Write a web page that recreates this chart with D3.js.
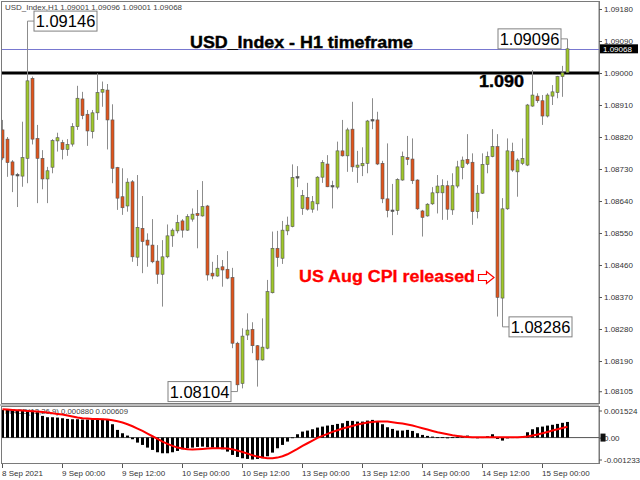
<!DOCTYPE html>
<html><head><meta charset="utf-8">
<script src="https://cdn.jsdelivr.net/npm/d3@7"></script>
<style>html,body{margin:0;padding:0;background:#fff;overflow:hidden}</style>
</head><body><svg id="c" width="640" height="480"></svg>
<script>
// trading sessions (day, first hour, last hour) -> hourly bar categories
const sessions = [["8 Sep",12,23],["9 Sep",0,23],["10 Sep",0,23],["13 Sep",0,23],["14 Sep",0,23],["15 Sep",0,5]];

const open = [1.08840,1.08814,1.08750,1.08713,1.08710,1.08760,1.08985,1.08816,1.08760,1.08702,
1.08735,1.08809,1.08804,1.08785,1.08800,1.08849,1.08927,1.08884,1.08835,1.08888,
1.08946,1.08952,1.08868,1.08734,1.08652,1.08626,1.08694,1.08482,1.08563,1.08530,
1.08516,1.08471,1.08434,1.08483,1.08542,1.08556,1.08584,1.08558,1.08589,1.08605,
1.08598,1.08626,1.08437,1.08429,1.08455,1.08448,1.08425,1.08240,1.08127,1.08263,
1.08279,1.08233,1.08193,1.08226,1.08382,1.08507,1.08479,1.08556,1.08568,1.08706,
1.08619,1.08650,1.08617,1.08632,1.08707,1.08744,1.08682,1.08679,1.08781,1.08767,
1.08842,1.08735,1.08739,1.08746,1.08868,1.08868,1.08746,1.08646,1.08613,1.08613,
1.08699,1.08762,1.08758,1.08699,1.08612,1.08598,1.08632,1.08663,1.08663,1.08683,
1.08615,1.08682,1.08734,1.08757,1.08749,1.08610,1.08662,1.08743,1.08765,1.08793,
1.08367,1.08618,1.08779,1.08722,1.08746,1.08741,1.08907,1.08935,1.08922,1.08879,
1.08935,1.08945,1.08990,1.09001];
const high = [1.08868,1.08820,1.08755,1.08719,1.08863,1.09146,1.08990,1.08854,1.08783,1.08736,
1.08814,1.08832,1.08812,1.08814,1.08859,1.08964,1.08947,1.08896,1.08896,1.08999,
1.08976,1.08969,1.08912,1.08736,1.08732,1.08704,1.08699,1.08713,1.08654,1.08549,
1.08589,1.08516,1.08530,1.08574,1.08563,1.08601,1.08589,1.08603,1.08619,1.08671,
1.08696,1.08629,1.08469,1.08488,1.08474,1.08499,1.08452,1.08244,1.08282,1.08324,
1.08299,1.08235,1.08310,1.08418,1.08554,1.08556,1.08584,1.08596,1.08743,1.08738,
1.08671,1.08691,1.08654,1.08710,1.08755,1.08769,1.08697,1.08807,1.08868,1.08846,
1.08919,1.08781,1.08791,1.08868,1.08929,1.08891,1.08753,1.08802,1.08688,1.08704,
1.08779,1.08823,1.08816,1.08701,1.08615,1.08634,1.08679,1.08713,1.08701,1.08697,
1.08718,1.08753,1.08765,1.08828,1.08774,1.08685,1.08774,1.08779,1.08842,1.08828,
1.08648,1.08816,1.08804,1.08760,1.08816,1.08913,1.09008,1.08943,1.08938,1.08943,
1.08966,1.08992,1.09020,1.09096];
const low = [1.08755,1.08708,1.08665,1.08623,1.08680,1.08690,1.08799,1.08634,1.08673,1.08634,
1.08718,1.08779,1.08757,1.08767,1.08793,1.08840,1.08870,1.08795,1.08816,1.08868,
1.08905,1.08785,1.08690,1.08615,1.08601,1.08610,1.08469,1.08457,1.08437,1.08455,
1.08465,1.08407,1.08343,1.08479,1.08511,1.08549,1.08537,1.08556,1.08582,1.08507,
1.08596,1.08416,1.08420,1.08427,1.08399,1.08420,1.08226,1.08104,1.08113,1.08249,
1.08212,1.08118,1.08191,1.08223,1.08380,1.08455,1.08463,1.08544,1.08566,1.08679,
1.08601,1.08613,1.08607,1.08613,1.08691,1.08679,1.08619,1.08673,1.08765,1.08722,
1.08722,1.08691,1.08710,1.08718,1.08842,1.08741,1.08634,1.08594,1.08544,1.08601,
1.08697,1.08741,1.08688,1.08615,1.08540,1.08596,1.08629,1.08605,1.08587,1.08587,
1.08601,1.08676,1.08701,1.08741,1.08573,1.08591,1.08660,1.08718,1.08763,1.08315,
1.08286,1.08615,1.08722,1.08652,1.08741,1.08738,1.08905,1.08916,1.08854,1.08875,
1.08910,1.08929,1.08933,1.09001];
const close = [1.08761,1.08748,1.08713,1.08712,1.08762,1.08978,1.08814,1.08760,1.08702,1.08725,
1.08810,1.08818,1.08785,1.08799,1.08849,1.08929,1.08880,1.08837,1.08888,1.08945,
1.08954,1.08868,1.08732,1.08648,1.08621,1.08693,1.08483,1.08566,1.08526,1.08516,
1.08469,1.08434,1.08483,1.08542,1.08558,1.08579,1.08558,1.08596,1.08603,1.08599,
1.08624,1.08432,1.08429,1.08451,1.08446,1.08423,1.08240,1.08123,1.08260,1.08277,
1.08233,1.08193,1.08229,1.08385,1.08507,1.08481,1.08558,1.08572,1.08706,1.08707,
1.08655,1.08617,1.08638,1.08707,1.08748,1.08680,1.08681,1.08781,1.08767,1.08840,
1.08736,1.08741,1.08746,1.08865,1.08866,1.08744,1.08646,1.08613,1.08612,1.08700,
1.08765,1.08757,1.08697,1.08618,1.08594,1.08631,1.08663,1.08682,1.08683,1.08617,
1.08683,1.08736,1.08755,1.08746,1.08610,1.08662,1.08743,1.08765,1.08793,1.08369,
1.08618,1.08781,1.08727,1.08755,1.08760,1.08910,1.08938,1.08922,1.08879,1.08938,
1.08947,1.08990,1.09001,1.09068];
const macdHist = [0.001558,0.001558,0.001539,0.001539,0.001520,0.001558,0.001520,0.001427,0.001220,0.001145,
0.001145,0.001126,0.001089,0.001051,0.001032,0.001032,0.001014,0.001014,0.001032,0.001051,
0.001051,0.000995,0.000751,0.000432,0.000244,0.000113,-0.000094,-0.000282,-0.000413,-0.000563,
-0.000694,-0.000826,-0.000882,-0.000882,-0.000826,-0.000751,-0.000657,-0.000601,-0.000563,-0.000526,
-0.000507,-0.000544,-0.000563,-0.000601,-0.000657,-0.000788,-0.000976,-0.001089,-0.001164,-0.001201,
-0.001233,-0.001201,-0.001164,-0.001051,-0.000845,-0.000601,-0.000413,-0.000225,0.000010,0.000188,
0.000338,0.000394,0.000469,0.000563,0.000619,0.000676,0.000713,0.000770,0.000807,0.000939,
0.000939,0.000901,0.000901,0.000957,0.000995,0.000901,0.000751,0.000582,0.000488,0.000394,
0.000394,0.000432,0.000375,0.000244,0.000150,0.000094,0.000056,0.000019,0.000019,0.000005,
0.000019,0.000038,0.000075,0.000113,0.000019,0.000005,0.000019,0.000075,0.000188,-0.000075,
-0.000169,-0.000005,0.000019,0.000019,0.000056,0.000300,0.000469,0.000582,0.000619,0.000676,
0.000720,0.000770,0.000830,0.000880];
const macdSignal = [0.001595,0.001577,0.001558,0.001539,0.001520,0.001502,0.001483,0.001464,0.001445,0.001408,
0.001370,0.001333,0.001295,0.001239,0.001183,0.001126,0.001089,0.001070,0.001051,0.001051,
0.001032,0.001014,0.000976,0.000920,0.000845,0.000751,0.000638,0.000507,0.000375,0.000225,
0.000075,-0.000075,-0.000225,-0.000357,-0.000469,-0.000563,-0.000619,-0.000657,-0.000676,-0.000657,
-0.000638,-0.000619,-0.000601,-0.000601,-0.000601,-0.000619,-0.000657,-0.000732,-0.000807,-0.000901,
-0.000995,-0.001070,-0.001126,-0.001164,-0.001164,-0.001126,-0.001051,-0.000939,-0.000788,-0.000638,
-0.000469,-0.000319,-0.000169,-0.000019,0.000094,0.000206,0.000319,0.000413,0.000507,0.000582,
0.000657,0.000732,0.000788,0.000845,0.000882,0.000901,0.000901,0.000901,0.000863,0.000826,
0.000788,0.000732,0.000676,0.000601,0.000526,0.000450,0.000375,0.000300,0.000244,0.000188,
0.000131,0.000094,0.000056,0.000038,0.000019,0.000019,0.000019,0.000019,0.000019,0.000019,
0.000019,0.000019,0.000019,0.000019,0.000038,0.000056,0.000113,0.000169,0.000244,0.000319,
0.000394,0.000469,0.000544,0.000609];

const priceTicks = [1.0918,1.0909,1.0900,1.0891,1.0882,1.0873,1.0864,1.0855,1.0846,1.0837,1.0828,1.0819,1.08105];
const macdTicks = [0.001524,0,-0.001233];
const macdTickLabels = ["0.001524","0.00","-0.001233"];
const xTickTimes = ["8 Sep 12:00","9 Sep 00:00","9 Sep 12:00","10 Sep 00:00","10 Sep 12:00","13 Sep 00:00","13 Sep 12:00","14 Sep 00:00","14 Sep 12:00","15 Sep 00:00"];
const xTickLabels = ["8 Sep 2021","9 Sep 00:00","9 Sep 12:00","10 Sep 00:00","10 Sep 12:00","13 Sep 00:00","13 Sep 12:00","14 Sep 00:00","14 Sep 12:00","15 Sep 00:00"];
const levelLine = 1.090, lastPrice = 1.09068;
const priceCallouts = [{bar:5, price:1.09146, side:"right"},{bar:113, price:1.09096, side:"left"},
                       {bar:100, price:1.08286, side:"right"},{bar:47, price:1.08104, side:"left"}];

const times = [];
sessions.forEach(([d,a,b]) => { for (let h=a; h<=b; h++) times.push(d+" "+String(h).padStart(2,"0")+":00"); });
const bars = times.map((t,i) => ({t, i, o:open[i], h:high[i], l:low[i], c:close[i], m:macdHist[i], s:macdSignal[i]}));

const svg = d3.select("#c");
const FONT = "'Liberation Sans', Arial, sans-serif";
const x = d3.scaleBand().domain(times).range([0, 570]);
const cx = t => x(t) + x.bandwidth()/2;
const y = d3.scaleLinear().domain([1.0819, 1.0918]).range([361, 9]);
const ym = d3.scaleLinear().domain([-0.001233, 0.001524]).range([459.5, 410.5]);

const defs = svg.append("defs");
defs.append("clipPath").attr("id","cm").append("rect").attr("x",2).attr("y",2).attr("width",597).attr("height",401);
defs.append("clipPath").attr("id","cd").append("rect").attr("x",2).attr("y",407).attr("width",597).attr("height",56);

// frames
svg.append("rect").attr("x",1.5).attr("y",1.5).attr("width",597.5).attr("height",402).attr("fill","#fff").attr("stroke","#7a7a7a");
svg.append("rect").attr("x",1.5).attr("y",406.5).attr("width",597.5).attr("height",57).attr("fill","#fff").attr("stroke","#7a7a7a");
svg.append("line").attr("x1",0).attr("x2",599).attr("y1",405).attr("y2",405).attr("stroke","#bdbdbd").attr("stroke-width",2);

// header
svg.append("text").attr("x",5).attr("y",10).attr("font-family",FONT).attr("font-size",7.5).attr("fill","#444")
  .attr("textLength",177).attr("lengthAdjust","spacingAndGlyphs")
  .text("USD_Index,H1  1.09001 1.09096 1.09001 1.09068");

const gm = svg.append("g").attr("clip-path","url(#cm)");
// level lines
gm.append("line").attr("x1",0).attr("x2",599).attr("y1",Math.round(y(lastPrice))+0.5).attr("y2",Math.round(y(lastPrice))+0.5)
  .attr("stroke","#7878d0").attr("stroke-width",1);
gm.append("line").attr("x1",0).attr("x2",599).attr("y1",y(levelLine)).attr("y2",y(levelLine))
  .attr("stroke","#000").attr("stroke-width",3);

// title texts
svg.append("text").attr("x",190).attr("y",48).attr("font-family",FONT).attr("font-weight","bold").attr("font-size",16)
  .attr("textLength",223).attr("lengthAdjust","spacingAndGlyphs").attr("fill","#000").attr("stroke","#000").attr("stroke-width",0.4)
  .text("USD_Index - H1 timeframe");
svg.append("text").attr("x",479).attr("y",86.5).attr("font-family",FONT).attr("font-weight","bold").attr("font-size",16)
  .attr("textLength",45).attr("lengthAdjust","spacingAndGlyphs").attr("fill","#000").attr("stroke","#000").attr("stroke-width",0.4)
  .text("1.090");
svg.append("text").attr("x",299).attr("y",281.5).attr("font-family",FONT).attr("font-weight","bold").attr("font-size",16)
  .attr("textLength",176).attr("lengthAdjust","spacingAndGlyphs").attr("fill","#f00").attr("stroke","#f00").attr("stroke-width",0.3)
  .text("US Aug CPI released");
svg.append("path").attr("d","M478.5,274.5 H486.5 V271.5 L494,277.5 L486.5,283.5 V280.5 H478.5 Z")
  .attr("fill","#fff").attr("stroke","#f00").attr("stroke-width",1.2);

// candles
const BULL = "#a0c82a", BEAR = "#e0541c";
gm.selectAll("line.wick").data(bars).join("line").attr("class","wick")
  .attr("x1",d=>cx(d.t)).attr("x2",d=>cx(d.t)).attr("y1",d=>y(d.h)).attr("y2",d=>y(d.l))
  .attr("stroke","#8c8c8c").attr("stroke-width",1);
gm.selectAll("rect.body").data(bars).join("rect").attr("class","body")
  .attr("x",d=>cx(d.t)-1.5).attr("width",3)
  .attr("y",d=>{const h=Math.abs(y(d.o)-y(d.c)); return h<1.5? (y(d.o)+y(d.c))/2-0.75 : y(Math.max(d.o,d.c));})
  .attr("height",d=>Math.max(1.5, Math.abs(y(d.o)-y(d.c))))
  .attr("fill",d=>Math.abs(y(d.o)-y(d.c))<1.5 ? "#555" : (d.c>=d.o?BULL:BEAR))
  .attr("stroke","#555").attr("stroke-width",0.6);

// callouts
priceCallouts.forEach(p => {
  const b = bars[p.bar], px = cx(b.t), py = y(p.price), w = 63, h = 20;
  const bx = p.side==="right" ? px+6.5 : px-6.5-w;
  svg.append("line").attr("x1",px).attr("x2",p.side==="right"?bx:bx+w).attr("y1",py).attr("y2",py).attr("stroke","#8c8c8c");
  svg.append("rect").attr("x",bx).attr("y",py-h/2).attr("width",w).attr("height",h).attr("fill","#fff").attr("stroke","#808080");
  svg.append("text").attr("x",bx+w/2).attr("y",py+6).attr("text-anchor","middle").attr("font-family",FONT)
    .attr("font-size",16.5).attr("fill","#000").text(d3.format(".5f")(p.price));
});

// price axis
const ay = svg.append("g").attr("transform","translate(599,0)")
  .call(d3.axisRight(y).tickValues(priceTicks).tickFormat(d3.format(".5f")).tickSize(3).tickPadding(2));
ay.select(".domain").attr("stroke","#7a7a7a").attr("d","M0.5,1V404");
ay.selectAll(".tick line").attr("stroke","#555");
ay.selectAll("text").attr("font-family",FONT).attr("font-size",8).attr("fill","#333");
// last price marker
svg.append("rect").attr("x",600).attr("y",y(lastPrice)-4.5).attr("width",38).attr("height",9).attr("fill","#000");
svg.append("text").attr("x",603).attr("y",y(lastPrice)+3).attr("font-family",FONT).attr("font-size",8).attr("fill","#fff").text("1.09068");

// MACD
const gd = svg.append("g").attr("clip-path","url(#cd)");
gd.append("text").attr("x",5).attr("y",413.5).attr("font-family",FONT).attr("font-size",7.5).attr("fill","#444")
  .attr("textLength",123).attr("lengthAdjust","spacingAndGlyphs").text("MACD(12,26,9) 0.000880 0.000609");
gd.append("line").attr("x1",0).attr("x2",599).attr("y1",ym(0)).attr("y2",ym(0)).attr("stroke","#555");
gd.selectAll("rect.h").data(bars).join("rect").attr("class","h")
  .attr("x",d=>cx(d.t)-1.5).attr("width",3)
  .attr("y",d=>Math.min(ym(d.m),ym(0))).attr("height",d=>Math.max(0.8,Math.abs(ym(d.m)-ym(0))))
  .attr("fill","#000");
gd.append("path").datum(bars).attr("fill","none").attr("stroke","#f00").attr("stroke-width",2)
  .attr("d", d3.line().x(d=>cx(d.t)).y(d=>ym(d.s)));

const am = svg.append("g").attr("transform","translate(599,0)")
  .call(d3.axisRight(ym).tickValues(macdTicks).tickFormat((d,i)=>macdTickLabels[i]).tickSize(3).tickPadding(2));
am.select(".domain").attr("stroke","#7a7a7a").attr("d","M0.5,406V464");
am.selectAll(".tick line").attr("stroke","#555");
am.selectAll("text").attr("font-family",FONT).attr("font-size",8).attr("fill","#333");
svg.append("rect").attr("x",600.5).attr("y",ym(0)-4).attr("width",5).attr("height",8).attr("fill","#111");
am.selectAll(".tick text").filter(d=>d===0).raise();

// time axis
const ax = svg.append("g").attr("transform","translate(0,464)")
  .call(d3.axisBottom(x).tickValues(xTickTimes).tickFormat((d,i)=>xTickLabels[i]).tickSize(4).tickPadding(2));
ax.select(".domain").remove();
ax.selectAll(".tick line").attr("stroke","#555");
ax.selectAll("text").attr("text-anchor","start").attr("x",-0.5).attr("font-family",FONT).attr("font-size",8).attr("fill","#333");
</script></body></html>
